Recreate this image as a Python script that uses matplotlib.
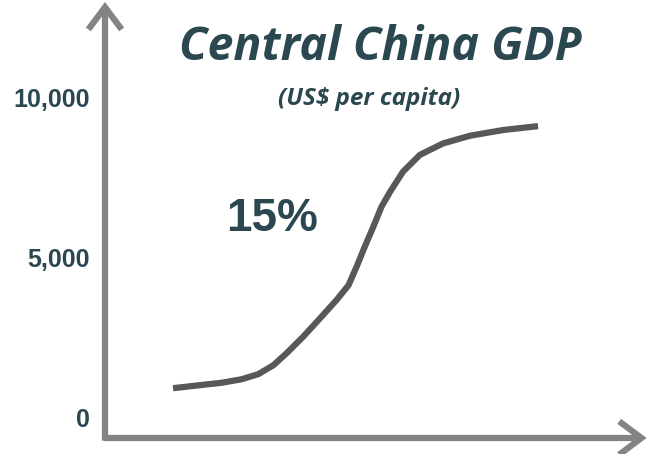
import matplotlib
matplotlib.use("Agg")
import matplotlib.pyplot as plt

# values (x is an unlabelled time axis, 0-100)
t = [12.6, 17.3, 21.6, 25.3, 28.4, 31.2, 33.6, 36.7, 39.8, 42.9, 45.1,
     46.6, 48.1, 49.7, 51.2, 52.8, 55.2, 58.3, 62.6, 67.6, 73.8, 80.2]
gdp = [900, 990, 1070, 1180, 1340, 1620, 1990, 2510, 3080, 3660, 4120,
       4700, 5320, 5950, 6570, 7040, 7670, 8190, 8550, 8790, 8970, 9090]
yticks = [0, 5000, 10000]
ytick_labels = ["0", "5,000", "10,000"]

teal = "#2b4850"
axis_grey = "#848484"
line_grey = "#585858"

fig = plt.figure(figsize=(6.48, 4.54), dpi=100)
ax = fig.add_axes([105 / 648, 16 / 454, 540 / 648, 436 / 454])
ax.set_xlim(0, 100)
ax.set_ylim(-656, 12969)

ax.plot(t, gdp, color=line_grey, lw=4.5, solid_capstyle="butt",
        solid_joinstyle="round")

for s in ax.spines.values():
    s.set_visible(False)
ax.set_xticks([])
ax.set_yticks(yticks)
ax.set_yticklabels(ytick_labels, fontsize=18, fontweight="bold",
                   color=teal, family="Liberation Sans")
ax.tick_params(axis="y", length=0, pad=11)

# arrow axes
arrow = dict(arrowstyle="->, head_length=0.8, head_width=0.6",
             color=axis_grey, lw=4.5, shrinkA=0, shrinkB=0,
             mutation_scale=20, capstyle="butt", joinstyle="miter")
ax.annotate("", xy=(0, 1), xytext=(0, -0.006), xycoords="axes fraction",
            arrowprops=arrow)
ax.annotate("", xy=(1.003, 0), xytext=(-0.002, 0), xycoords="axes fraction",
            arrowprops=arrow)

fig.text(380 / 648, 1 - 47 / 454, "Central China GDP", ha="center", va="center",
         fontsize=33.5, fontweight="bold", style="italic", color=teal,
         family="Open Sans")
fig.text(369 / 648, 1 - 99 / 454, "(US$ per capita)", ha="center", va="center",
         fontsize=17.5, fontweight="bold", style="italic", color=teal,
         family="Open Sans")
ax.text(272 / 648, 1 - 219 / 454, "15%", transform=fig.transFigure,
        ha="center", va="center", fontsize=33, fontweight="bold",
        color=teal, family="Liberation Sans")

fig.savefig("out.png", dpi=100)
